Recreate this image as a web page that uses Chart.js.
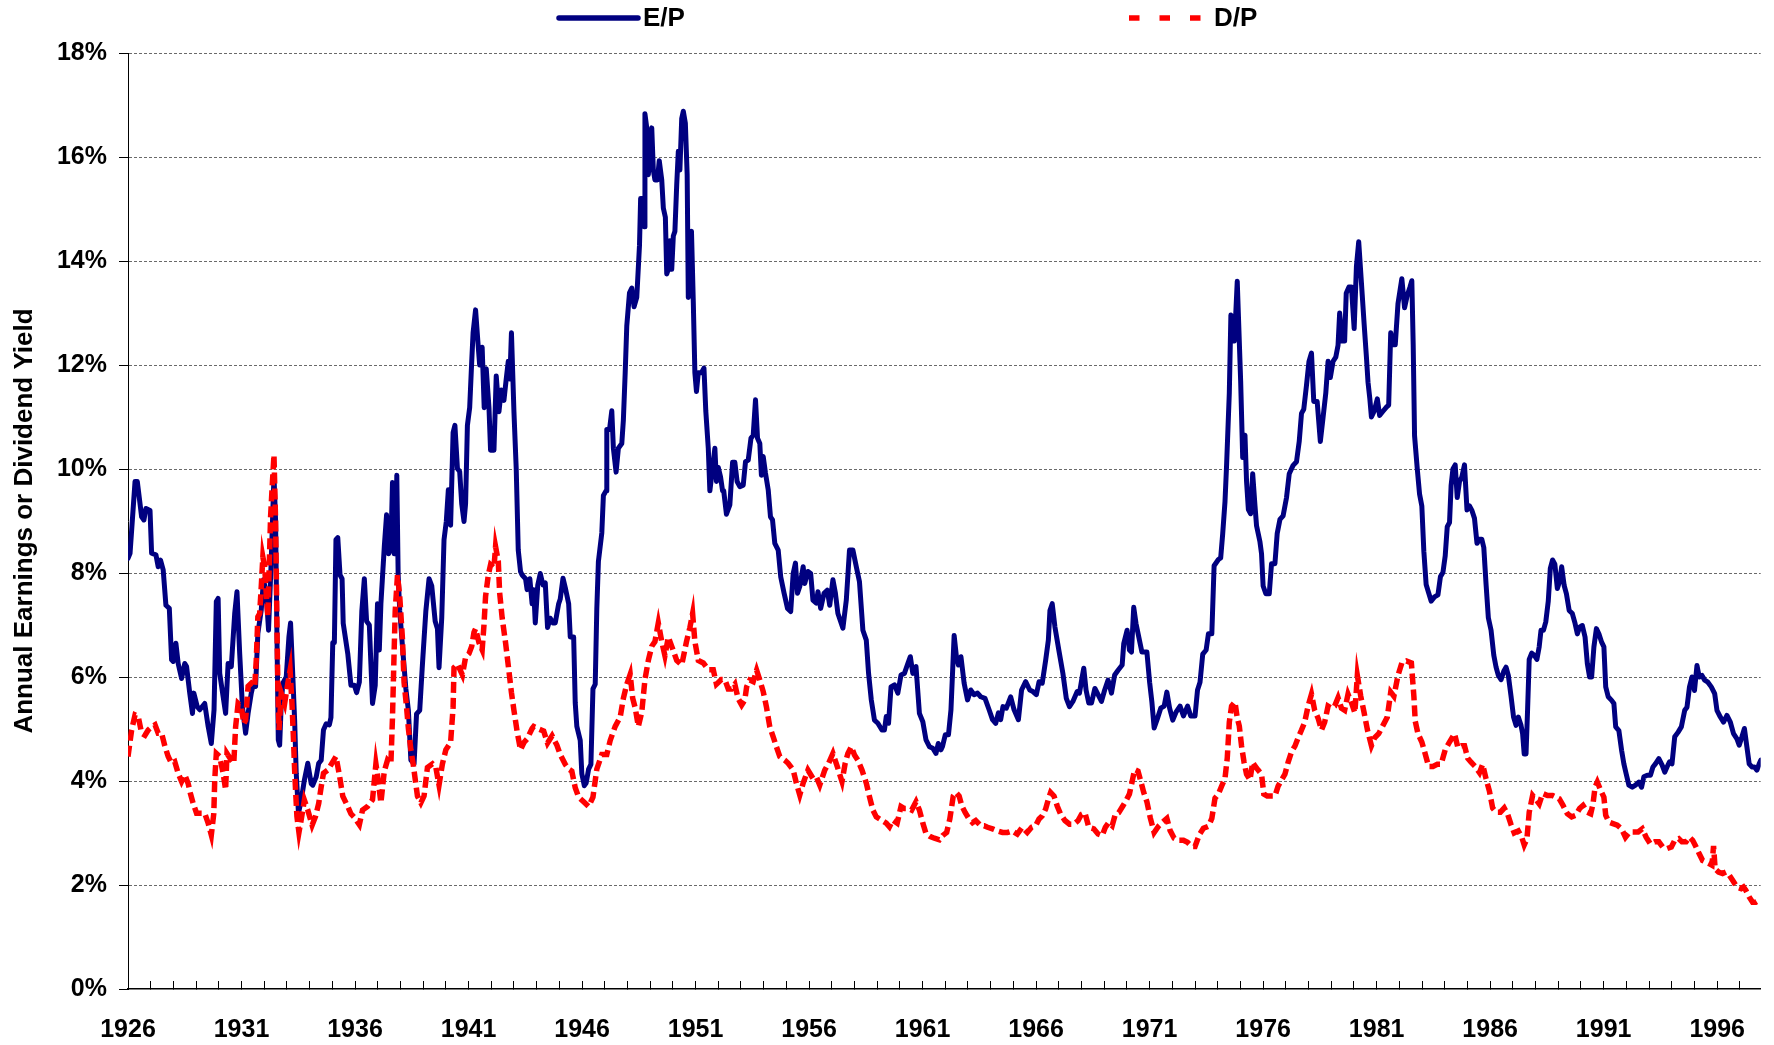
<!DOCTYPE html>
<html>
<head>
<meta charset="utf-8">
<title>E/P and D/P</title>
<script src="https://cdn.jsdelivr.net/npm/chart.js@4.4.1/dist/chart.umd.min.js"></script>
<style>
  html, body { margin: 0; padding: 0; background: #fff; }
  #wrap { width: 1774px; height: 1045px; }
</style>
</head>
<body>
<div id="wrap"><canvas id="yieldChart" width="1774" height="1045"></canvas></div>
<script>
"use strict";

// E/P: earnings yield in %, x = year (fractional)
var epYears = [
  1926.00, 1926.09, 1926.31, 1926.41, 1926.60, 1926.70, 1926.79, 1926.97, 1927.04, 1927.23, 1927.33, 1927.43, 1927.55, 1927.67, 1927.82, 1927.92, 1927.99,
  1928.11, 1928.21, 1928.36, 1928.50, 1928.58, 1928.72, 1928.84, 1928.90, 1929.05, 1929.16, 1929.38, 1929.53, 1929.67, 1929.79, 1929.89, 1929.97,
  1930.04, 1930.19, 1930.30, 1930.41, 1930.55, 1930.70, 1930.80, 1930.92, 1931.04, 1931.18, 1931.29, 1931.43, 1931.53, 1931.62, 1931.72, 1931.87, 1931.97,
  1932.09, 1932.19, 1932.31, 1932.43, 1932.50, 1932.56, 1932.62, 1932.68, 1932.75, 1932.82, 1932.97, 1933.09, 1933.16, 1933.23, 1933.34, 1933.41, 1933.51,
  1933.63, 1933.77, 1933.92, 1934.07, 1934.14, 1934.29, 1934.40, 1934.51, 1934.61, 1934.73,
  1934.87, 1934.94, 1935.02, 1935.09, 1935.16, 1935.24, 1935.34, 1935.43, 1935.48, 1935.68, 1935.82, 1935.97, 1936.07, 1936.19, 1936.30, 1936.41, 1936.51,
  1936.63, 1936.70, 1936.77, 1936.89, 1936.99, 1937.07, 1937.14, 1937.29, 1937.39, 1937.48, 1937.58, 1937.65, 1937.72, 1937.80, 1937.84, 1937.90, 1937.97,
  1938.09, 1938.24, 1938.35, 1938.46, 1938.60, 1938.71, 1938.85, 1938.97, 1939.12, 1939.26, 1939.38, 1939.53, 1939.63, 1939.70, 1939.82, 1939.92,
  1940.02, 1940.11, 1940.21, 1940.32, 1940.40, 1940.51, 1940.61, 1940.70, 1940.80, 1940.87, 1940.95, 1941.05, 1941.14, 1941.20, 1941.31, 1941.43, 1941.49,
  1941.60, 1941.69, 1941.78, 1941.90, 1941.97, 1942.12, 1942.22, 1942.34, 1942.44, 1942.56, 1942.66, 1942.75, 1942.82, 1942.89, 1943.00, 1943.10, 1943.19,
  1943.29, 1943.36, 1943.51, 1943.58, 1943.70, 1943.80,
  1943.87, 1943.94, 1944.05, 1944.16, 1944.28, 1944.38, 1944.48, 1944.60, 1944.72, 1944.82, 1944.97, 1945.04, 1945.16, 1945.26, 1945.41, 1945.48, 1945.63,
  1945.70, 1945.77, 1945.92, 1945.99, 1946.10, 1946.18, 1946.29, 1946.39, 1946.48, 1946.58, 1946.65, 1946.72, 1946.87, 1946.94, 1947.06, 1947.09, 1947.21,
  1947.31, 1947.38, 1947.50, 1947.60, 1947.75, 1947.82, 1947.90, 1947.97, 1948.09, 1948.19, 1948.29, 1948.41, 1948.53, 1948.58, 1948.67, 1948.73, 1948.77,
  1948.85, 1948.92, 1948.99, 1949.07, 1949.14, 1949.21, 1949.32, 1949.40, 1949.51, 1949.58, 1949.67, 1949.73, 1949.80, 1949.87, 1949.95, 1950.02, 1950.09,
  1950.17, 1950.24, 1950.31, 1950.39, 1950.46, 1950.55, 1950.63, 1950.68, 1950.75, 1950.82, 1950.90, 1950.97, 1951.04, 1951.12, 1951.26, 1951.37, 1951.45,
  1951.56, 1951.63, 1951.75, 1951.85, 1951.92, 1952.00, 1952.10, 1952.19, 1952.24, 1952.36, 1952.51, 1952.63, 1952.73, 1952.83,
  1952.95, 1953.10, 1953.20, 1953.32, 1953.44, 1953.54, 1953.64, 1953.73, 1953.83, 1953.90, 1953.98, 1954.08, 1954.20, 1954.30, 1954.39, 1954.49, 1954.64,
  1954.75, 1954.90, 1955.05, 1955.19, 1955.30, 1955.40, 1955.49, 1955.59, 1955.74, 1955.81, 1955.95, 1956.07, 1956.17, 1956.32, 1956.39, 1956.51, 1956.66,
  1956.80, 1956.91, 1957.05, 1957.16, 1957.27, 1957.49, 1957.64, 1957.78, 1957.93, 1958.08, 1958.22, 1958.37, 1958.52, 1958.62, 1958.74, 1958.88, 1959.03,
  1959.21, 1959.32, 1959.40, 1959.50, 1959.61, 1959.76, 1959.91, 1960.05, 1960.20, 1960.35, 1960.46, 1960.57, 1960.71, 1960.86, 1961.01, 1961.15, 1961.30,
  1961.45, 1961.59, 1961.69, 1961.81,
  1961.88, 1962.00, 1962.14, 1962.25, 1962.39, 1962.49, 1962.58, 1962.69, 1962.83, 1962.98, 1963.12, 1963.27, 1963.42, 1963.56, 1963.75, 1963.93, 1964.08,
  1964.22, 1964.34, 1964.44, 1964.54, 1964.69, 1964.88, 1965.03, 1965.22, 1965.36, 1965.54, 1965.72, 1965.86, 1966.01, 1966.13, 1966.27, 1966.42, 1966.54,
  1966.61, 1966.71, 1966.83, 1967.00, 1967.18, 1967.33, 1967.47, 1967.62, 1967.81, 1967.91, 1968.03, 1968.10, 1968.20, 1968.32, 1968.44, 1968.59, 1968.73,
  1968.88, 1969.02, 1969.17, 1969.32, 1969.46, 1969.61, 1969.79, 1969.86, 1970.01, 1970.11, 1970.20, 1970.30, 1970.40, 1970.55, 1970.66, 1970.81,
  1970.88, 1971.00, 1971.10, 1971.20, 1971.35, 1971.49, 1971.64, 1971.76, 1971.88, 1972.02, 1972.17, 1972.34, 1972.49, 1972.67, 1972.81, 1973.00, 1973.11,
  1973.22, 1973.34, 1973.49, 1973.59, 1973.74, 1973.84, 1974.03, 1974.13, 1974.22, 1974.32, 1974.39, 1974.51, 1974.58, 1974.66, 1974.73, 1974.80, 1974.86,
  1974.92, 1975.01, 1975.10, 1975.20, 1975.27, 1975.35, 1975.45, 1975.54, 1975.64, 1975.71, 1975.86, 1975.93, 1976.00, 1976.12, 1976.27, 1976.37, 1976.52,
  1976.62, 1976.74, 1976.88, 1977.03, 1977.15, 1977.32, 1977.47, 1977.59, 1977.69, 1977.79, 1977.91, 1978.02, 1978.13, 1978.23, 1978.38, 1978.52, 1978.64,
  1978.76, 1978.86, 1978.96, 1979.08, 1979.20, 1979.30, 1979.37, 1979.49, 1979.59, 1979.66, 1979.78,
  1979.89, 1980.01, 1980.11, 1980.21, 1980.33, 1980.45, 1980.55, 1980.62, 1980.70, 1980.77, 1980.89, 1981.03, 1981.13, 1981.28, 1981.43, 1981.53, 1981.62,
  1981.72, 1981.82, 1981.94, 1982.11, 1982.23, 1982.35, 1982.47, 1982.55, 1982.61, 1982.67, 1982.79, 1982.89, 1982.99, 1983.08, 1983.18, 1983.29, 1983.40,
  1983.55, 1983.70, 1983.81, 1983.92, 1984.02, 1984.11, 1984.21, 1984.28, 1984.36, 1984.46, 1984.55, 1984.65, 1984.75, 1984.87, 1984.98, 1985.09, 1985.19,
  1985.31, 1985.42, 1985.53, 1985.63, 1985.72, 1985.82, 1985.92, 1986.04, 1986.16, 1986.26, 1986.36, 1986.48, 1986.60, 1986.70, 1986.80, 1986.92, 1987.03,
  1987.14, 1987.24, 1987.36, 1987.43, 1987.50, 1987.58, 1987.65, 1987.72, 1987.83, 1987.94, 1988.06, 1988.16, 1988.24, 1988.35, 1988.45, 1988.56, 1988.65,
  1988.75, 1988.85,
  1988.96, 1989.07, 1989.15, 1989.26, 1989.36, 1989.48, 1989.62, 1989.74, 1989.84, 1989.94, 1990.06, 1990.18, 1990.28, 1990.38, 1990.47, 1990.57, 1990.68,
  1990.79, 1990.91, 1991.01, 1991.09, 1991.20, 1991.35, 1991.45, 1991.53, 1991.67, 1991.79, 1991.89, 1991.99, 1992.11, 1992.26, 1992.40, 1992.55, 1992.67,
  1992.77, 1992.92, 1993.06, 1993.17, 1993.28, 1993.43, 1993.58, 1993.69, 1993.79, 1993.90, 1994.01, 1994.13, 1994.28, 1994.42, 1994.57, 1994.67, 1994.78,
  1994.89, 1995.00, 1995.11, 1995.21, 1995.33, 1995.45, 1995.59, 1995.74, 1995.89, 1995.99, 1996.14, 1996.28, 1996.43, 1996.58, 1996.72, 1996.87, 1996.97,
  1997.09, 1997.20, 1997.31, 1997.41, 1997.53, 1997.64, 1997.75, 1997.85, 1997.92
];
var epValues = [
  8.28, 8.38, 9.76, 9.76, 9.08, 9.02, 9.24, 9.20, 8.38, 8.35, 8.12, 8.25, 8.06, 7.38, 7.32, 6.33, 6.30,
  6.65, 6.26, 5.97, 6.26, 6.20, 5.69, 5.30, 5.69, 5.43, 5.37, 5.49, 5.05, 4.72, 5.37, 7.45, 7.51,
  6.07, 5.62, 5.30, 6.26, 6.20, 7.22, 7.64, 6.45, 5.43, 4.92, 5.30, 5.69, 5.88, 5.82, 6.84, 7.29, 7.87,
  7.60, 6.90, 8.25, 9.88, 9.02, 6.84, 4.79, 4.69, 5.49, 5.88, 6.00, 6.78, 7.04, 6.33, 5.17, 4.15, 3.38,
  3.63, 4.02, 4.34, 3.95, 3.92, 4.08, 4.34, 4.40, 4.98, 5.10,
  5.08, 5.22, 6.66, 6.66, 8.64, 8.68, 7.96, 7.89, 7.03, 6.45, 5.84, 5.84, 5.70, 5.90, 7.27, 7.89, 7.07,
  7.00, 6.25, 5.49, 5.84, 7.41, 6.52, 7.41, 8.51, 9.12, 8.37, 8.51, 9.74, 8.37, 8.44, 9.88, 7.96, 7.27,
  6.59, 5.77, 5.36, 4.40, 4.33, 5.29, 5.36, 6.25, 7.27, 7.89, 7.75, 7.07, 6.93, 6.18, 7.14, 8.64,
  8.99, 9.60, 8.92, 10.70, 10.84, 10.01, 9.95, 9.33, 8.99, 9.33, 10.84, 11.18, 12.07, 12.62, 13.06, 12.34, 12.00,
  12.34, 11.18, 11.93, 11.18, 10.36, 10.36, 11.79, 11.10, 11.52, 11.32, 11.73, 12.07, 11.73, 12.62, 11.10, 10.01, 8.44,
  8.03, 7.96, 7.89, 7.68, 7.89, 7.41,
  7.68, 7.04, 7.77, 7.99, 7.77, 7.81, 6.95, 7.13, 7.04, 7.04, 7.41, 7.50, 7.90, 7.72, 7.41, 6.77, 6.77,
  5.50, 5.05, 4.78, 4.14, 3.91, 3.96, 4.23, 4.32, 5.77, 5.86, 7.31, 8.22, 8.77, 9.49, 9.58, 10.76, 10.76,
  11.12, 10.40, 9.94, 10.40, 10.49, 10.94, 11.85, 12.75, 13.39, 13.48, 13.12, 13.30, 14.30, 15.20, 15.20, 14.66, 16.83,
  16.56, 15.66, 16.11, 16.56, 15.75, 15.56, 15.56, 15.93, 15.56, 15.02, 14.84, 13.75, 13.84, 14.39, 13.84, 14.48, 14.57,
  15.47, 16.11, 15.75, 16.74, 16.88, 16.65, 15.66, 13.30, 14.48, 14.57, 13.21, 11.85, 11.49, 11.85, 11.85, 11.94, 11.12,
  10.40, 9.58, 10.03, 10.40, 9.76, 10.03, 9.85, 9.58, 9.58, 9.13, 9.31, 10.13, 10.13, 9.76,
  9.66, 9.69, 10.14, 10.17, 10.59, 10.65, 11.33, 10.59, 10.49, 9.88, 10.24, 9.92, 9.60, 9.08, 9.02, 8.57, 8.44,
  7.93, 7.61, 7.32, 7.26, 7.99, 8.19, 7.61, 7.74, 8.12, 7.80, 8.03, 7.99, 7.48, 7.42, 7.64, 7.32, 7.61,
  7.67, 7.38, 7.87, 7.61, 7.22, 6.94, 7.48, 8.44, 8.44, 8.12, 7.83, 6.90, 6.71, 6.07, 5.56, 5.17, 5.11,
  4.98, 4.98, 5.24, 5.11, 5.81, 5.85, 5.69, 6.04, 6.07, 6.26, 6.39, 6.07, 6.20, 5.30, 5.14, 4.79, 4.66,
  4.63, 4.53, 4.72, 4.60,
  4.67, 4.89, 4.89, 5.37, 6.80, 6.39, 6.23, 6.39, 5.88, 5.56, 5.75, 5.66, 5.69, 5.62, 5.59, 5.37, 5.18,
  5.11, 5.31, 5.18, 5.43, 5.40, 5.62, 5.37, 5.18, 5.75, 5.91, 5.75, 5.72, 5.66, 5.91, 5.88, 6.32, 6.71,
  7.28, 7.41, 6.96, 6.52, 6.07, 5.59, 5.43, 5.53, 5.72, 5.69, 6.00, 6.17, 5.75, 5.50, 5.50, 5.78, 5.66,
  5.53, 5.75, 5.94, 5.69, 6.04, 6.13, 6.23, 6.64, 6.90, 6.52, 6.48, 7.34, 7.03, 6.71, 6.48, 6.48,
  6.48, 5.90, 5.52, 5.02, 5.21, 5.40, 5.44, 5.71, 5.40, 5.17, 5.33, 5.44, 5.25, 5.44, 5.25, 5.25, 5.75,
  5.90, 6.44, 6.52, 6.83, 6.83, 8.14, 8.26, 8.29, 8.76, 9.37, 10.07, 11.46, 12.96, 12.92, 12.46, 13.04, 13.61,
  12.84, 11.69, 10.22, 10.65, 9.76, 9.22, 9.14, 9.91, 9.30, 8.91, 8.60, 8.37, 7.75, 7.60, 7.60, 8.18, 8.18,
  8.76, 9.03, 9.10, 9.45, 9.91, 10.07, 10.14, 10.53, 11.07, 11.15, 11.61, 12.07, 12.23, 11.30, 11.30, 10.53, 10.99,
  11.46, 12.07, 11.76, 12.07, 12.15, 12.38, 13.00, 12.46, 12.46, 13.38, 13.50,
  13.50, 12.70, 13.90, 14.37, 13.58, 12.78, 12.15, 11.67, 11.35, 11.00, 11.11, 11.35, 11.03, 11.11, 11.19, 11.23, 12.62,
  12.39, 12.39, 13.18, 13.66, 13.10, 13.34, 13.50, 13.62, 12.39, 10.64, 10.00, 9.52, 9.29, 8.41, 7.78, 7.62, 7.46,
  7.54, 7.58, 7.93, 8.01, 8.33, 8.89, 8.97, 9.68, 10.00, 10.08, 9.45, 9.76, 9.84, 10.08, 9.21, 9.29, 9.21,
  9.05, 8.57, 8.65, 8.65, 8.49, 7.78, 7.14, 6.90, 6.42, 6.19, 6.03, 5.95, 6.11, 6.19, 6.03, 5.63, 5.23,
  5.07, 5.23, 5.07, 4.91, 4.52, 4.52, 5.39, 6.34, 6.46, 6.42, 6.34, 6.58, 6.90, 6.90, 7.06, 7.46, 8.09,
  8.25, 8.17,
  7.70, 7.86, 8.12, 7.76, 7.60, 7.28, 7.22, 7.03, 6.83, 6.96, 6.99, 6.77, 6.26, 6.00, 6.00, 6.58, 6.93,
  6.83, 6.67, 6.58, 5.81, 5.62, 5.55, 5.49, 5.04, 4.97, 4.59, 4.33, 4.14, 3.92, 3.88, 3.92, 3.98, 3.88,
  4.08, 4.11, 4.11, 4.27, 4.33, 4.43, 4.30, 4.17, 4.27, 4.37, 4.33, 4.85, 4.94, 5.04, 5.36, 5.42, 5.81,
  6.00, 5.74, 6.22, 6.00, 6.03, 5.94, 5.90, 5.81, 5.68, 5.36, 5.23, 5.13, 5.26, 5.13, 4.91, 4.81, 4.69,
  4.85, 5.01, 4.65, 4.33, 4.27, 4.27, 4.21, 4.33, 4.40
];

// D/P: dividend yield in %, x = year (fractional)
var dpYears = [
  1926.00, 1926.16, 1926.31, 1926.45, 1926.60, 1926.75, 1926.89, 1927.04, 1927.19, 1927.33, 1927.48, 1927.63, 1927.77, 1927.92, 1928.06, 1928.21, 1928.36,
  1928.50, 1928.65, 1928.75, 1928.87, 1929.02, 1929.16, 1929.38, 1929.53, 1929.67, 1929.78, 1929.82, 1929.89, 1930.04, 1930.19, 1930.30, 1930.36, 1930.55,
  1930.66, 1930.74, 1930.85, 1930.99, 1931.10, 1931.18, 1931.29, 1931.43, 1931.58, 1931.65, 1931.72, 1931.80, 1931.87, 1931.94, 1932.02, 1932.09, 1932.16,
  1932.24, 1932.28, 1932.35, 1932.43, 1932.50, 1932.53, 1932.56, 1932.60, 1932.65, 1932.75, 1932.90, 1933.04, 1933.14, 1933.23, 1933.29, 1933.34, 1933.38,
  1933.44, 1933.53, 1933.63, 1933.77, 1933.92, 1934.11, 1934.26, 1934.40, 1934.51, 1934.61, 1934.80,
  1934.87, 1935.16, 1935.31, 1935.46, 1935.68, 1935.82, 1935.97, 1936.19, 1936.33, 1936.55, 1936.77, 1936.92, 1936.99, 1937.14, 1937.29, 1937.43, 1937.58,
  1937.65, 1937.72, 1937.77, 1937.87, 1937.97, 1938.09, 1938.16, 1938.27, 1938.35, 1938.46, 1938.56, 1938.75, 1938.90, 1939.04, 1939.19, 1939.41, 1939.56,
  1939.70, 1939.85, 1940.00, 1940.21, 1940.32, 1940.36, 1940.51, 1940.73, 1940.87, 1941.02, 1941.14, 1941.24, 1941.31, 1941.46, 1941.60, 1941.68, 1941.75,
  1941.87, 1941.97, 1942.12, 1942.19, 1942.31, 1942.37, 1942.48, 1942.63, 1942.78, 1942.89, 1943.00, 1943.14, 1943.29, 1943.44, 1943.58, 1943.80,
  1943.87, 1944.09, 1944.31, 1944.48, 1944.68, 1944.89, 1945.04, 1945.26, 1945.41, 1945.55, 1945.70, 1945.85, 1946.07, 1946.29, 1946.48, 1946.65, 1946.87,
  1947.09, 1947.24, 1947.46, 1947.68, 1947.82, 1947.97, 1948.12, 1948.23, 1948.34, 1948.48, 1948.63, 1948.77, 1948.92, 1949.07, 1949.21, 1949.36, 1949.51,
  1949.65, 1949.80, 1949.95, 1950.17, 1950.39, 1950.60, 1950.75, 1950.87, 1950.97, 1951.12, 1951.34, 1951.56, 1951.78, 1951.92, 1952.14, 1952.29, 1952.44,
  1952.58, 1952.73, 1952.87,
  1953.03, 1953.17, 1953.25, 1953.39, 1953.54, 1953.69, 1953.83, 1953.98, 1954.12, 1954.27, 1954.42, 1954.56, 1954.71, 1954.93, 1955.08, 1955.30, 1955.44,
  1955.59, 1955.74, 1955.95, 1956.17, 1956.32, 1956.47, 1956.69, 1956.86, 1957.05, 1957.24, 1957.45, 1957.59, 1957.71, 1957.86, 1958.00, 1958.15, 1958.33,
  1958.52, 1958.66, 1958.81, 1958.96, 1959.18, 1959.40, 1959.54, 1959.69, 1959.88, 1960.05, 1960.20, 1960.38, 1960.52, 1960.71, 1960.86, 1961.01, 1961.15,
  1961.34, 1961.52, 1961.74,
  1961.88, 1962.06, 1962.20, 1962.35, 1962.47, 1962.61, 1962.73, 1962.88, 1963.05, 1963.20, 1963.34, 1963.56, 1963.71, 1963.86, 1964.08, 1964.30, 1964.52,
  1964.73, 1964.95, 1965.17, 1965.39, 1965.61, 1965.80, 1965.98, 1966.13, 1966.27, 1966.42, 1966.54, 1966.64, 1966.79, 1966.93, 1967.08, 1967.27, 1967.47,
  1967.66, 1967.85, 1968.00, 1968.15, 1968.32, 1968.54, 1968.73, 1968.91, 1969.05, 1969.20, 1969.35, 1969.49, 1969.64, 1969.82, 1969.96, 1970.11, 1970.22,
  1970.34, 1970.49, 1970.59, 1970.74,
  1970.88, 1971.03, 1971.20, 1971.39, 1971.58, 1971.76, 1971.90, 1972.08, 1972.27, 1972.49, 1972.67, 1972.86, 1973.00, 1973.19, 1973.37, 1973.59, 1973.74,
  1973.88, 1974.03, 1974.17, 1974.32, 1974.42, 1974.51, 1974.61, 1974.76, 1974.86, 1974.95, 1975.05, 1975.16, 1975.27, 1975.42, 1975.54, 1975.64, 1975.78,
  1975.93, 1976.03, 1976.18, 1976.37, 1976.52, 1976.66, 1976.81, 1976.96, 1977.10, 1977.25, 1977.40, 1977.54, 1977.69, 1977.83, 1977.98, 1978.13, 1978.27,
  1978.42, 1978.57, 1978.71, 1978.86, 1979.01, 1979.15, 1979.30, 1979.45, 1979.59, 1979.74, 1979.88,
  1980.04, 1980.15, 1980.30, 1980.45, 1980.59, 1980.77, 1980.91, 1981.09, 1981.28, 1981.47, 1981.62, 1981.76, 1981.94, 1982.11, 1982.31, 1982.53, 1982.64,
  1982.70, 1982.82, 1982.99, 1983.14, 1983.29, 1983.48, 1983.67, 1983.84, 1984.02, 1984.21, 1984.43, 1984.58, 1984.75, 1984.87, 1985.01, 1985.16, 1985.34,
  1985.53, 1985.67, 1985.82, 1985.97, 1986.11, 1986.26, 1986.45, 1986.62, 1986.77, 1986.92, 1987.06, 1987.24, 1987.39, 1987.50, 1987.62, 1987.72, 1987.87,
  1988.02, 1988.16, 1988.31, 1988.53, 1988.75,
  1988.89, 1989.04, 1989.21, 1989.40, 1989.59, 1989.77, 1989.94, 1990.09, 1990.28, 1990.43, 1990.53, 1990.62, 1990.72, 1990.87, 1991.01, 1991.09, 1991.23,
  1991.41, 1991.60, 1991.79, 1991.96, 1992.14, 1992.33, 1992.52, 1992.70, 1992.87, 1993.06, 1993.25, 1993.43, 1993.60, 1993.79, 1993.98, 1994.13, 1994.31,
  1994.45, 1994.63, 1994.78, 1994.92, 1995.07, 1995.21, 1995.36, 1995.51, 1995.65, 1995.77, 1995.84, 1995.91, 1996.06, 1996.24, 1996.39, 1996.53, 1996.68,
  1996.87, 1997.06, 1997.16, 1997.26, 1997.41, 1997.56, 1997.70, 1997.85, 1997.92
];
var dpValues = [
  4.47, 4.98, 5.27, 5.24, 4.92, 4.88, 4.98, 5.04, 5.08, 4.92, 4.92, 4.66, 4.47, 4.34, 4.37, 4.15, 3.99,
  4.12, 3.95, 3.76, 3.57, 3.38, 3.38, 3.38, 3.19, 2.96, 3.38, 4.02, 4.53, 4.47, 4.15, 3.83, 4.53, 4.40,
  4.34, 5.04, 5.49, 5.43, 5.10, 5.17, 5.82, 5.88, 5.82, 6.33, 7.16, 7.22, 7.74, 8.31, 8.12, 7.60, 7.16,
  8.44, 9.08, 9.66, 10.27, 9.02, 8.06, 7.04, 5.82, 4.98, 5.69, 5.49, 5.88, 6.13, 5.43, 4.79, 4.21, 3.83,
  3.32, 3.01, 3.26, 3.63, 3.44, 3.15, 3.32, 3.57, 3.89, 4.15, 4.21,
  4.26, 4.47, 4.12, 3.71, 3.51, 3.37, 3.30, 3.16, 3.44, 3.51, 3.64, 4.33, 4.12, 3.58, 4.19, 4.40, 4.33,
  5.22, 6.45, 7.27, 7.96, 7.55, 6.73, 5.90, 5.42, 5.01, 4.60, 4.33, 3.71, 3.58, 3.71, 4.26, 4.33, 4.26,
  3.92, 4.33, 4.60, 4.74, 5.42, 6.18, 6.25, 6.04, 6.38, 6.45, 6.59, 6.86, 6.93, 6.66, 6.52, 7.00, 7.55,
  7.96, 8.16, 8.10, 8.51, 8.23, 7.62, 7.14, 6.66, 6.11, 5.70, 5.36, 4.95, 4.60, 4.74, 4.81, 5.01,
  5.05, 5.00, 4.96, 4.73, 4.87, 4.69, 4.51, 4.32, 4.23, 4.19, 3.87, 3.69, 3.60, 3.51, 3.69, 4.23, 4.51,
  4.51, 4.78, 5.05, 5.23, 5.59, 5.86, 6.05, 5.59, 5.41, 5.05, 5.32, 5.95, 6.32, 6.59, 6.68, 7.04, 6.68,
  6.41, 6.77, 6.59, 6.32, 6.23, 6.68, 6.95, 7.22, 6.68, 6.32, 6.27, 6.14, 6.14, 5.86, 5.95, 5.95, 5.77,
  5.77, 5.86, 5.59,
  5.46, 5.56, 5.81, 5.94, 5.91, 6.13, 5.94, 5.72, 5.43, 5.04, 4.85, 4.66, 4.47, 4.40, 4.34, 4.21, 3.96,
  3.73, 3.96, 4.21, 4.05, 4.08, 3.92, 4.21, 4.34, 4.53, 4.28, 3.99, 4.34, 4.53, 4.66, 4.50, 4.40, 4.21,
  3.96, 3.70, 3.44, 3.31, 3.25, 3.19, 3.12, 3.25, 3.19, 3.51, 3.47, 3.47, 3.44, 3.60, 3.44, 3.19, 2.99,
  2.93, 2.90, 2.87,
  2.95, 3.01, 3.27, 3.71, 3.78, 3.71, 3.52, 3.39, 3.27, 3.20, 3.24, 3.14, 3.14, 3.11, 3.08, 3.04, 3.01,
  3.01, 3.04, 2.98, 3.11, 3.01, 3.11, 3.14, 3.27, 3.33, 3.46, 3.65, 3.78, 3.71, 3.52, 3.36, 3.24, 3.17,
  3.17, 3.24, 3.36, 3.39, 3.11, 3.08, 2.98, 2.95, 3.11, 3.20, 3.14, 3.36, 3.39, 3.52, 3.62, 3.75, 3.97,
  4.22, 4.19, 4.03, 3.78,
  3.60, 3.29, 3.01, 3.13, 3.21, 3.28, 3.05, 2.90, 2.86, 2.86, 2.82, 2.74, 2.74, 2.97, 3.09, 3.13, 3.28,
  3.67, 3.75, 3.90, 4.05, 4.44, 5.13, 5.44, 5.52, 5.21, 5.06, 4.67, 4.36, 4.13, 4.02, 4.36, 4.29, 4.21,
  4.13, 3.75, 3.71, 3.71, 3.71, 3.90, 4.02, 4.13, 4.36, 4.56, 4.67, 4.83, 4.98, 5.13, 5.44, 5.67, 5.36,
  5.21, 4.98, 5.13, 5.44, 5.40, 5.44, 5.60, 5.40, 5.36, 5.67, 5.52,
  5.31, 6.03, 5.63, 5.31, 4.99, 4.68, 4.83, 4.91, 5.07, 5.23, 5.71, 5.63, 6.03, 6.27, 6.31, 6.27, 5.63,
  5.15, 4.91, 4.75, 4.52, 4.28, 4.28, 4.32, 4.32, 4.60, 4.75, 4.91, 4.64, 4.68, 4.68, 4.44, 4.36, 4.28,
  4.16, 4.32, 4.04, 3.80, 3.48, 3.40, 3.40, 3.48, 3.36, 3.16, 3.00, 3.04, 2.92, 2.77, 2.89, 3.40, 3.72,
  3.64, 3.56, 3.76, 3.72, 3.72,
  3.69, 3.66, 3.53, 3.37, 3.31, 3.34, 3.47, 3.53, 3.40, 3.37, 3.56, 3.88, 3.98, 3.82, 3.69, 3.34, 3.21,
  3.18, 3.15, 3.08, 2.92, 3.02, 3.02, 3.02, 3.08, 2.92, 2.79, 2.83, 2.83, 2.73, 2.70, 2.73, 2.86, 2.89,
  2.83, 2.83, 2.92, 2.86, 2.73, 2.60, 2.47, 2.44, 2.41, 2.38, 2.75, 2.31, 2.25, 2.22, 2.25, 2.19, 2.09,
  1.96, 1.93, 1.96, 1.90, 1.77, 1.67, 1.67, 1.71, 1.72
];

var seriesNames = ['E/P', 'D/P'];
var labelYears = [1926, 1931, 1936, 1941, 1946, 1951, 1956, 1961, 1966, 1971, 1976, 1981, 1986, 1991, 1996];
var firstYear = 1926;
var lastYear = 1926 + 863 / 12;   // Dec 1997, last monthly observation
var yTickValues = [0, 2, 4, 6, 8, 10, 12, 14, 16, 18];

var FONT = '"Liberation Sans", Arial, Helvetica, sans-serif';

function toPoints(xs, ys) {
    var pts = [];
    for (var i = 0; i < xs.length; i++) {
        pts.push({x: xs[i], y: ys[i]});
    }
    return pts;
}

// a minor tick every year, labels only every 5 years
var yearTicks = [];
for (var yr = firstYear; yr <= Math.floor(lastYear); yr++) {
    yearTicks.push(yr);
}

// legend drawn at the top, the way the original places it
var topLegend = {
    id: 'topLegend',
    afterDraw: function (chart) {
        var ctx = chart.ctx;
        var spots = [
            {ds: 0, x1: 559, x2: 638, tx: 643},
            {ds: 1, x1: 1129, x2: 1201, tx: 1214}
        ];
        var y = 18;
        ctx.save();
        spots.forEach(function (s) {
            var ds = chart.data.datasets[s.ds];
            ctx.strokeStyle = ds.borderColor;
            ctx.lineWidth = 5.5;
            if (s.ds === 0) {
                ctx.setLineDash([]);
                ctx.lineCap = 'round';
            } else {
                ctx.setLineDash([10.5, 20]);
                ctx.lineCap = 'butt';
            }
            ctx.beginPath();
            ctx.moveTo(s.x1, y);
            ctx.lineTo(s.x2, y);
            ctx.stroke();
            ctx.setLineDash([]);
            ctx.fillStyle = '#000';
            ctx.font = 'bold 26px ' + FONT;
            ctx.textAlign = 'left';
            ctx.textBaseline = 'middle';
            ctx.fillText(ds.label, s.tx, y + 1);
        });
        ctx.restore();
    }
};

var ctx = document.getElementById('yieldChart').getContext('2d');
var yieldChart = new Chart(ctx, {
    type: 'line',
    data: {
        datasets: [
            {
                label: seriesNames[0],
                data: toPoints(epYears, epValues),
                borderColor: '#000080',
                borderWidth: 5,
                borderJoinStyle: 'round',
                borderCapStyle: 'round',
                pointRadius: 0,
                tension: 0,
                order: 2
            },
            {
                label: seriesNames[1],
                data: toPoints(dpYears, dpValues),
                borderColor: '#ff0000',
                borderWidth: 5.5,
                borderDash: [11, 5],
                borderJoinStyle: 'miter',
                borderCapStyle: 'butt',
                pointRadius: 0,
                tension: 0,
                order: 1
            }
        ]
    },
    options: {
        responsive: false,
        devicePixelRatio: 1,
        animation: false,
        layout: {padding: {top: 53, right: 9, left: 0, bottom: 0}},
        plugins: {
            legend: {display: false},
            tooltip: {enabled: false}
        },
        scales: {
            x: {
                type: 'linear',
                min: firstYear,
                max: lastYear,
                afterBuildTicks: function (scale) {
                    scale.ticks = yearTicks.map(function (v) { return {value: v}; });
                },
                afterFit: function (scale) { scale.height = 56; },
                ticks: {
                    autoSkip: false,
                    maxRotation: 0,
                    minRotation: 0,
                    padding: 34,
                    color: '#000',
                    font: {family: FONT, size: 25, weight: 'bold'},
                    callback: function (value) {
                        return labelYears.indexOf(value) >= 0 ? String(value) : '';
                    }
                },
                grid: {
                    drawOnChartArea: false,
                    drawTicks: true,
                    tickLength: -8,
                    tickColor: '#000',
                    tickWidth: 1
                },
                border: {display: true, color: '#000', width: 1.5}
            },
            y: {
                min: 0,
                max: 18,
                afterBuildTicks: function (scale) {
                    scale.ticks = yTickValues.map(function (v) { return {value: v}; });
                },
                afterFit: function (scale) { scale.width = 128; },
                ticks: {
                    padding: 12,
                    color: '#000',
                    font: {family: FONT, size: 25, weight: 'bold'},
                    callback: function (value) { return value + '%'; }
                },
                grid: {
                    color: function (c) {
                        return c.tick && c.tick.value === 0 ? 'rgba(0,0,0,0)' : '#6a6a6a';
                    },
                    lineWidth: 1,
                    drawTicks: true,
                    tickLength: 9,
                    tickColor: '#000',
                    tickWidth: 1
                },
                border: {display: true, color: '#000', width: 1, dash: [3, 2]},
                title: {
                    display: true,
                    text: 'Annual Earnings or Dividend Yield',
                    color: '#000',
                    font: {family: FONT, size: 26, weight: 'bold'},
                    padding: {top: 9, bottom: 0}
                }
            }
        }
    },
    plugins: [topLegend]
});
</script>
</body>
</html>
